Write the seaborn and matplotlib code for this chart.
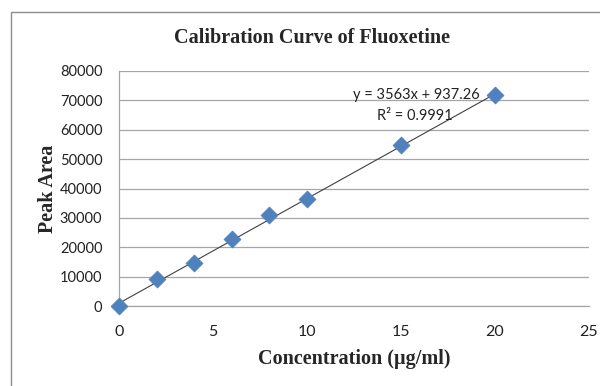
import numpy as np
import pandas as pd
import matplotlib
matplotlib.use("Agg")
import matplotlib.pyplot as plt
import seaborn as sns
from matplotlib.patches import Rectangle

conc = [0, 2, 4, 6, 8, 10, 15, 20]
area = [0, 9100, 14800, 22900, 31000, 36300, 54900, 71900]
slope = 3563
intercept = 937.26
r2 = 0.9991
x_ticks = [0, 5, 10, 15, 20, 25]
y_ticks = [0, 10000, 20000, 30000, 40000, 50000, 60000, 70000, 80000]

sns.set_theme(style="white")
plt.rcParams['font.family'] = ['Lato', 'DejaVu Sans']

fig = plt.figure(figsize=(6, 3.86), dpi=100)
ax = fig.add_axes([119/600, 80/386, 470/600, 235/386])

df = pd.DataFrame({"conc": conc, "area": area})
line_x = np.array([min(conc), max(conc)])
ax.plot(line_x, slope * line_x + intercept, color="#404040", lw=0.8, zorder=3)
sns.scatterplot(data=df, x="conc", y="area", marker="D", s=75, color="#4F81BD",
                edgecolor="#4F81BD", linewidth=0.5, ax=ax, zorder=4, clip_on=False)

ax.set_xlim(0, 25)
ax.set_ylim(0, 80000)
ax.set_xticks(x_ticks)
ax.set_yticks(y_ticks)
ax.set_xticklabels([str(t) for t in x_ticks], fontsize=11.5, color="#222222")
ax.set_yticklabels([str(t) for t in y_ticks], fontsize=10.5, color="#222222")
ax.yaxis.grid(True, color="#A6A6A6", lw=0.9)
ax.xaxis.grid(False)
for s in ["top", "right"]:
    ax.spines[s].set_visible(False)
for s in ["left", "bottom"]:
    ax.spines[s].set_color("#A6A6A6")
    ax.spines[s].set_linewidth(0.9)
ax.tick_params(axis="both", direction="out", length=5, width=0.9, color="#A6A6A6")
ax.tick_params(axis="y", pad=7)
ax.tick_params(axis="x", pad=9)

serif = ["Liberation Serif", "DejaVu Serif"]
ax.set_xlabel("Concentration (µg/ml)", fontsize=14.5, fontweight="bold",
              family=serif, labelpad=7)
ax.set_ylabel("Peak Area", fontsize=14.5, fontweight="bold",
              family=serif, labelpad=1)
fig.text(312/600, 1 - 38/386, "Calibration Curve of Fluoxetine", ha="center", va="center",
         fontsize=14.5, fontweight="bold", family=serif)

fig.text(416/600, 1 - 95/386, f"y = {slope}x + {intercept}", fontsize=10.5,
         ha="center", va="center", color="#222222")
fig.text(415/600, 1 - 116/386, f"R² = {r2}", fontsize=10.5,
         ha="center", va="center", color="#222222")

fig.patches.append(Rectangle((11/600, -0.1), 1.2, 1 - 12/386 + 0.1, transform=fig.transFigure,
                             fill=False, edgecolor="#8C8C8C", lw=1.0))

fig.savefig("out.png", dpi=100)
